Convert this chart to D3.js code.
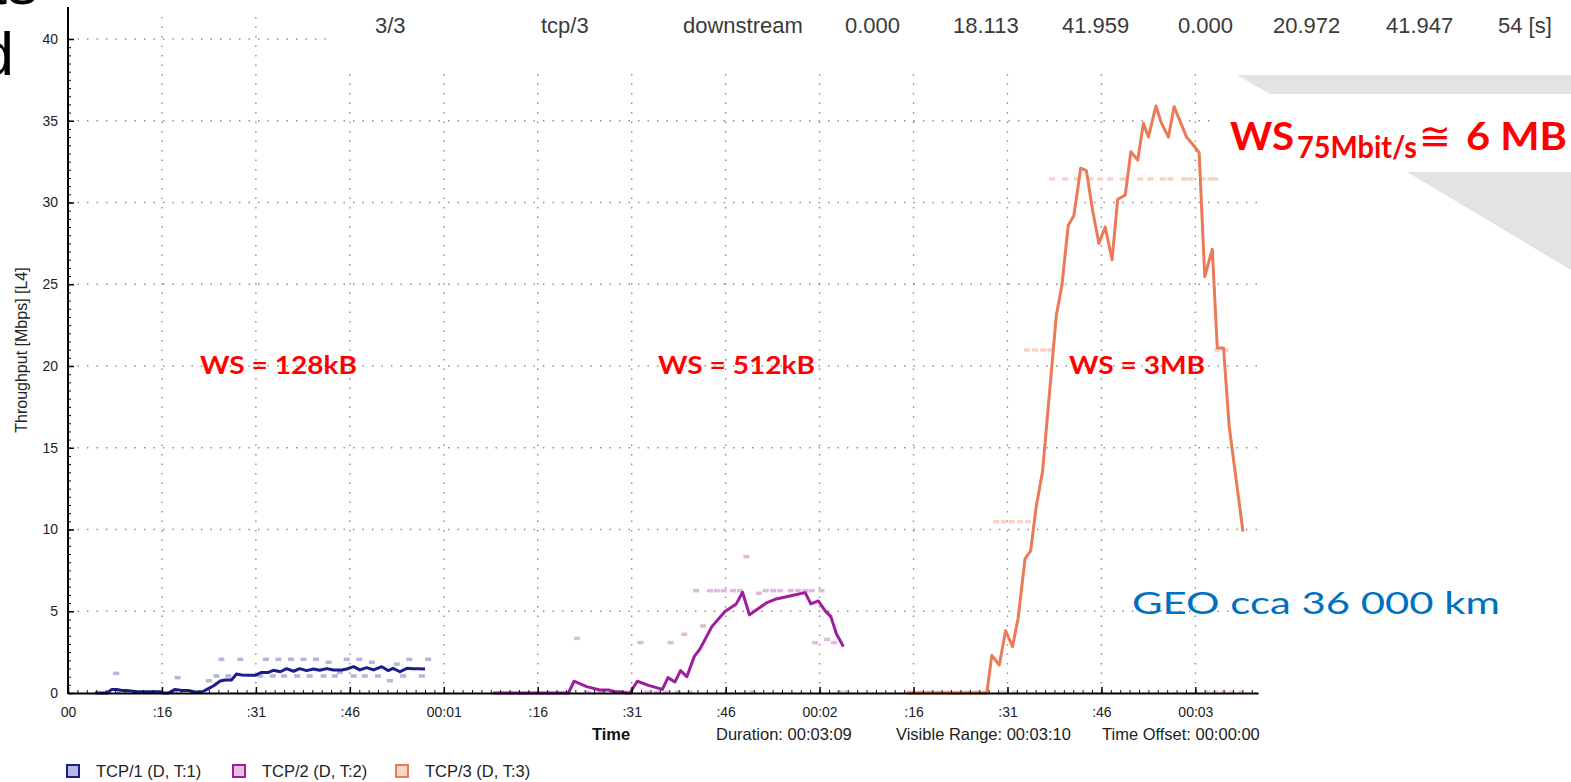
<!DOCTYPE html>
<html><head><meta charset="utf-8">
<script src="https://cdn.jsdelivr.net/npm/d3@7"></script>
<style>html,body{margin:0;padding:0;background:#fff;overflow:hidden}</style>
</head><body>
<svg id="c" width="1571" height="782"></svg>
<script>
// ---------- DATA ----------
const xTickSeconds = [0,15,30,45,60,75,90,105,120,135,150,165,180];
const xTickLabels = ["00", ":16", ":31", ":46", "00:01", ":16", ":31", ":46", "00:02", ":16", ":31", ":46", "00:03"];
const yTickValues = [0,5,10,15,20,25,30,35,40];

const seriesNames = ["TCP/1 (D, T:1)", "TCP/2 (D, T:2)", "TCP/3 (D, T:3)"];

const tcp1Time  = [4.3,6.2,7,7.8,8.6,9.4,11,12.6,14.7,15.2,16,17.1,18.2,19.2,20.3,21.4,22.4,23.2,24.3,25.1,26.1,26.9,27.7,29.1,29.9,30.9,32,32.8,33.9,34.9,36,37,38.1,39.2,40.2,41.3,42.4,43.7,44.5,45.6,46.6,47.7,48.8,50.1,51.1,51.9,53,54.1,55.1,55.9,57];
const tcp1Value = [0,0,0.22,0.22,0.16,0.16,0.08,0.08,0.08,0,0,0.22,0.16,0.16,0.06,0.06,0.27,0.43,0.73,0.8,0.8,1.16,1.1,1.08,1.08,1.26,1.26,1.39,1.3,1.49,1.33,1.49,1.37,1.47,1.39,1.49,1.41,1.41,1.47,1.61,1.41,1.55,1.41,1.61,1.37,1.51,1.3,1.51,1.49,1.49,1.47];
const tcp1DashTime  = [7.7,17.5,22.5,23.7,24.5,25.6,27.5,30.7,31.6,32.7,33.6,34.5,35.6,36.6,37.6,38.6,39.6,40.8,41.6,42.6,43.4,44.5,45.6,46.5,47.4,48.5,49.5,51.4,52.5,53.5,54.5,56.5,57.5,8,9.5,13.5,17,21];
const tcp1DashValue = [1.2,0.94,0.75,1.04,2.06,1.04,2.06,1.04,2.06,1.04,2.06,1.04,2.06,1.04,2.06,1.04,2.06,1.04,1.88,1.04,1.26,2.06,1.04,2.06,1.04,1.88,1.04,0.75,1.77,1.04,2.06,1.04,2.06,0.05,0.05,0.05,0.05,0.05];

const tcp2Time  = [67.9,79.9,80.8,82.8,84.9,86.3,87.3,88.1,89.2,89.7,90.9,92.7,94.9,95.8,96.9,97.8,98.8,100,100.9,102.8,104.9,106.7,107.7,108.8,111.6,112.9,115.6,117.7,118.6,119.8,120.9,121.8,122.7,123.8];
const tcp2Value = [0,0,0.72,0.39,0.18,0.18,0.08,0.08,0,0,0.72,0.47,0.22,0.94,0.67,1.37,1.0,2.24,2.69,4.06,4.98,5.45,6.16,4.78,5.53,5.73,5.96,6.14,5.45,5.63,5.02,4.67,3.61,2.84];
const tcp2DashTime  = [81.3,91.4,96.2,98.4,101.4,100.3,102.5,103.6,104.7,106.2,107.3,108.3,110.3,111.4,112.6,113.7,115.4,116.6,117.7,118.7,120.3,119.3,121.2,122.3,83,85,87,89,92.5,94,95.5,97.4,99.3,109.3,123.2,124.3];
const tcp2DashValue = [3.34,3.08,3.08,3.59,4.1,6.26,6.26,6.26,6.26,6.26,6.26,8.34,6.1,6.26,6.26,6.26,6.26,6.26,6.26,6.26,6.26,3.08,3.28,3.08,0.04,0.04,0.04,0.04,0.04,0.04,0.04,0.04,0.04,0.04,0.04,0.04];

const tcp3Time  = [133.9,146.7,147.5,148.7,149.7,150.8,151.7,152.8,153.7,154.6,155.6,157.8,158.7,159.7,160.6,161.7,162.6,163.6,164.6,165.6,166.7,167.6,168.8,169.7,170.8,171.7,172.5,173.7,174.6,175.7,176.6,177.7,178.6,179.7,180.6,181.5,182.7,183.5,184.5,185.4,187.6];
const tcp3Value = [0,0,2.3,1.71,3.81,2.83,4.57,8.2,8.69,11.44,13.54,23.1,24.95,28.6,29.2,32.1,31.95,29.5,27.5,28.5,26.5,30.2,30.45,33.1,32.6,34.84,34.0,35.9,34.84,34.0,35.86,34.84,34.0,33.5,33.05,25.46,27.14,21.1,21.1,16.3,9.87];
const tcp3DashTime  = [157.1,159.2,161.1,163.2,164.8,166.4,168.4,171.2,172.8,174.8,176.0,178.2,179.2,181.2,182.4,183.2,153.1,154.4,155.7,156.8,183.5,184.8,148.2,149.4,150.7,152.0,153.3,134.5,136,137.5,139,140.5,142,143.5,145,146.5,149.3,151.2,181.9,183.2,184.5,185.8,187.2];
const tcp3DashValue = [31.44,31.44,31.44,31.44,31.44,31.44,31.44,31.44,31.44,31.44,31.44,31.44,31.44,31.44,31.44,31.44,20.98,20.98,20.98,20.98,20.98,20.98,10.48,10.48,10.48,10.48,10.48,0.05,0.05,0.05,0.05,0.05,0.05,0.05,0.05,0.05,0.05,0.05,0.05,0.05,0.05,0.05,0.05];

const headerCells = ["3/3","tcp/3","downstream","0.000","18.113","41.959","0.000","20.972","41.947","54 [s]"];
const footerCells = ["Duration: 00:03:09","Visible Range: 00:03:10","Time Offset: 00:00:00"];
const wsLabels = ["WS = 128kB","WS = 512kB","WS = 3MB"];

// ---------- LAYOUT / STYLE ----------
const lineColors = ["#1c1c8c","#9e1e9e","#eb7a56"];
const dashColors = ["#b6b6dd","#e2b8e2","#f6d3c5"];
const legendFill = ["#b8b8e0","#e3bfe3","#f8d6c8"];
const headerX = [375,541,683,845,953,1062,1178,1273,1386,1498];
const footerX = [716,896,1102];
const wsX = [200,658,1069];
const wsW = [157,157,136];
const legendX = [66,232,395];

const svg = d3.select("#c");
const FONT = "'Liberation Sans', Arial, sans-serif";
const x = d3.scaleLinear().domain([0,190]).range([68,1258]);
const y = d3.scaleLinear().domain([0,40]).range([693,39]);

// top-left slide fragments (cut off in the reference too)
svg.append("text").attr("x",14).attr("y",75).attr("text-anchor","end")
  .attr("font-family",FONT).attr("font-size",62).attr("fill","#000").text("d");
svg.append("text").attr("x",38).attr("y",4).attr("text-anchor","end")
  .attr("font-family",FONT).attr("font-size",62).attr("fill","#000").text("ts");

// grid
const grid = svg.append("g");
grid.selectAll("line.h").data(yTickValues.filter(v=>v>0)).join("line")
  .attr("x1",x(0)).attr("x2",x(190)).attr("y1",d=>y(d)).attr("y2",d=>y(d))
  .attr("stroke","#8a8a8a").attr("stroke-width",1.4).attr("stroke-dasharray","1.4 8.1");
grid.selectAll("line.v").data(xTickSeconds.filter(v=>v>0)).join("line")
  .attr("x1",d=>x(d)).attr("x2",d=>x(d)).attr("y1",y(0)).attr("y2",15)
  .attr("stroke","#8a8a8a").attr("stroke-width",1.4).attr("stroke-dasharray","1.4 8.1");

// series
const series = [
  {t:tcp1Time,v:tcp1Value,dt:tcp1DashTime,dv:tcp1DashValue},
  {t:tcp2Time,v:tcp2Value,dt:tcp2DashTime,dv:tcp2DashValue},
  {t:tcp3Time,v:tcp3Value,dt:tcp3DashTime,dv:tcp3DashValue}
];
series.forEach((s,i)=>{
  const g = svg.append("g");
  g.selectAll("rect").data(s.dt.map((t,k)=>[t,s.dv[k]])).join("rect")
    .attr("x",d=>x(d[0])-3).attr("y",d=>y(d[1])-1.75).attr("width",6).attr("height",3.5)
    .attr("fill",dashColors[i]);
});
series.forEach((s,i)=>{
  const pts = s.t.map((t,k)=>[t,s.v[k]]);
  svg.append("path").datum(pts)
    .attr("d",d3.line().x(d=>x(d[0])).y(d=>y(d[1])))
    .attr("fill","none").attr("stroke",lineColors[i]).attr("stroke-width",3)
    .attr("stroke-linejoin","round");
});

// axes
const minorX = d3.range(0,190.01,1.5);
const minorY = d3.range(0,40.01,0.5);
svg.append("g").attr("transform",`translate(0,${y(0)})`)
  .call(d3.axisBottom(x).tickValues(minorX).tickSize(-3).tickFormat(""))
  .call(g=>g.select(".domain").remove())
  .call(g=>g.selectAll("line").attr("stroke","#111"));
svg.append("g").attr("transform",`translate(${x(0)},0)`)
  .call(d3.axisLeft(y).tickValues(minorY).tickSize(-3).tickFormat(""))
  .call(g=>g.select(".domain").remove())
  .call(g=>g.selectAll("line").attr("stroke","#111"));

const xa = svg.append("g").attr("transform",`translate(0,${y(0)})`)
  .call(d3.axisBottom(x).tickValues(xTickSeconds).tickSize(-6).tickSizeOuter(0).tickPadding(14)
    .tickFormat((d,i)=>xTickLabels[i]));
xa.select(".domain").attr("stroke","#000").attr("stroke-width",2);
xa.selectAll("line").attr("stroke","#000").attr("stroke-width",1.5);
xa.selectAll("text").attr("font-family",FONT).attr("font-size",14).attr("fill","#222");

const ya = svg.append("g").attr("transform",`translate(${x(0)},0)`)
  .call(d3.axisLeft(y).tickValues(yTickValues).tickSize(-6).tickSizeOuter(0).tickPadding(10));
ya.select(".domain").remove();
ya.selectAll("line").attr("stroke","#000").attr("stroke-width",1.5);
ya.selectAll("text").attr("font-family",FONT).attr("font-size",14).attr("fill","#222");
svg.append("line").attr("x1",x(0)).attr("x2",x(0)).attr("y1",y(0)+1).attr("y2",7)
  .attr("stroke","#000").attr("stroke-width",2);

svg.append("text").attr("transform",`translate(27,${(y(0)+7)/2}) rotate(-90)`)
  .attr("text-anchor","middle").attr("font-family",FONT).attr("font-size",16).attr("fill","#222")
  .text("Throughput [Mbps] [L4]");

// footer
svg.append("text").attr("x",611).attr("y",740).attr("text-anchor","middle")
  .attr("font-family",FONT).attr("font-size",16.5).attr("font-weight","bold").attr("fill","#111").text("Time");
svg.selectAll("text.foot").data(footerCells).join("text").attr("class","foot")
  .attr("x",(d,i)=>footerX[i]).attr("y",740)
  .attr("font-family",FONT).attr("font-size",16.5).attr("fill","#222").text(d=>d);

// legend
const lg = svg.append("g");
seriesNames.forEach((n,i)=>{
  lg.append("rect").attr("x",legendX[i]+1).attr("y",765).attr("width",12).attr("height",12)
    .attr("fill",legendFill[i]).attr("stroke",lineColors[i]).attr("stroke-width",2);
  lg.append("text").attr("x",legendX[i]+30).attr("y",777)
    .attr("font-family",FONT).attr("font-size",16.5).attr("fill","#222").text(n);
});

// header band (overlay)
svg.append("rect").attr("x",333).attr("y",0).attr("width",1238).attr("height",72).attr("fill","#fff");
svg.selectAll("text.head").data(headerCells).join("text").attr("class","head")
  .attr("x",(d,i)=>headerX[i]).attr("y",33)
  .attr("font-family",FONT).attr("font-size",22).attr("fill","#3a3a3a").text(d=>d);

// slide overlay shapes
svg.append("rect").attr("x",1210).attr("y",96).attr("width",361).attr("height",72).attr("fill","#fff");
svg.append("polygon").attr("points","1237,75 1571,75 1571,94 1270,94").attr("fill","#e3e3e3");
svg.append("polygon").attr("points","1407,172 1571,172 1571,270").attr("fill","#e3e3e3");

// annotations
const AFONT = "Lato, 'Open Sans', sans-serif";
svg.selectAll("text.ws").data(wsLabels).join("text").attr("class","ws")
  .attr("x",(d,i)=>wsX[i]).attr("y",374)
  .attr("textLength",(d,i)=>wsW[i]).attr("lengthAdjust","spacingAndGlyphs")
  .attr("font-family",AFONT).attr("font-size",25).attr("font-weight","bold").attr("fill","#ff0000").text(d=>d);

const big = svg.append("g").attr("fill","#ff0000").attr("font-family",AFONT).attr("font-weight","bold");
big.append("text").attr("x",1230).attr("y",150).attr("font-size",39)
  .attr("textLength",64).attr("lengthAdjust","spacingAndGlyphs").text("WS");
big.append("text").attr("x",1297).attr("y",158).attr("font-size",30)
  .attr("textLength",120).attr("lengthAdjust","spacingAndGlyphs").text("75Mbit/s");
big.append("text").attr("x",1419).attr("y",150).attr("font-size",39)
  .attr("font-family","'DejaVu Sans', sans-serif").attr("font-weight","normal")
  .attr("textLength",32).attr("lengthAdjust","spacingAndGlyphs").text("≅");
big.append("text").attr("x",1466).attr("y",150).attr("font-size",39)
  .attr("textLength",101).attr("lengthAdjust","spacingAndGlyphs").text("6 MB");

svg.append("text").attr("x",1132).attr("y",614).attr("font-size",30)
  .attr("font-family",AFONT).attr("fill","#0070c0")
  .attr("textLength",368).attr("lengthAdjust","spacingAndGlyphs").text("GEO cca 36 000 km");
</script>
</body></html>
